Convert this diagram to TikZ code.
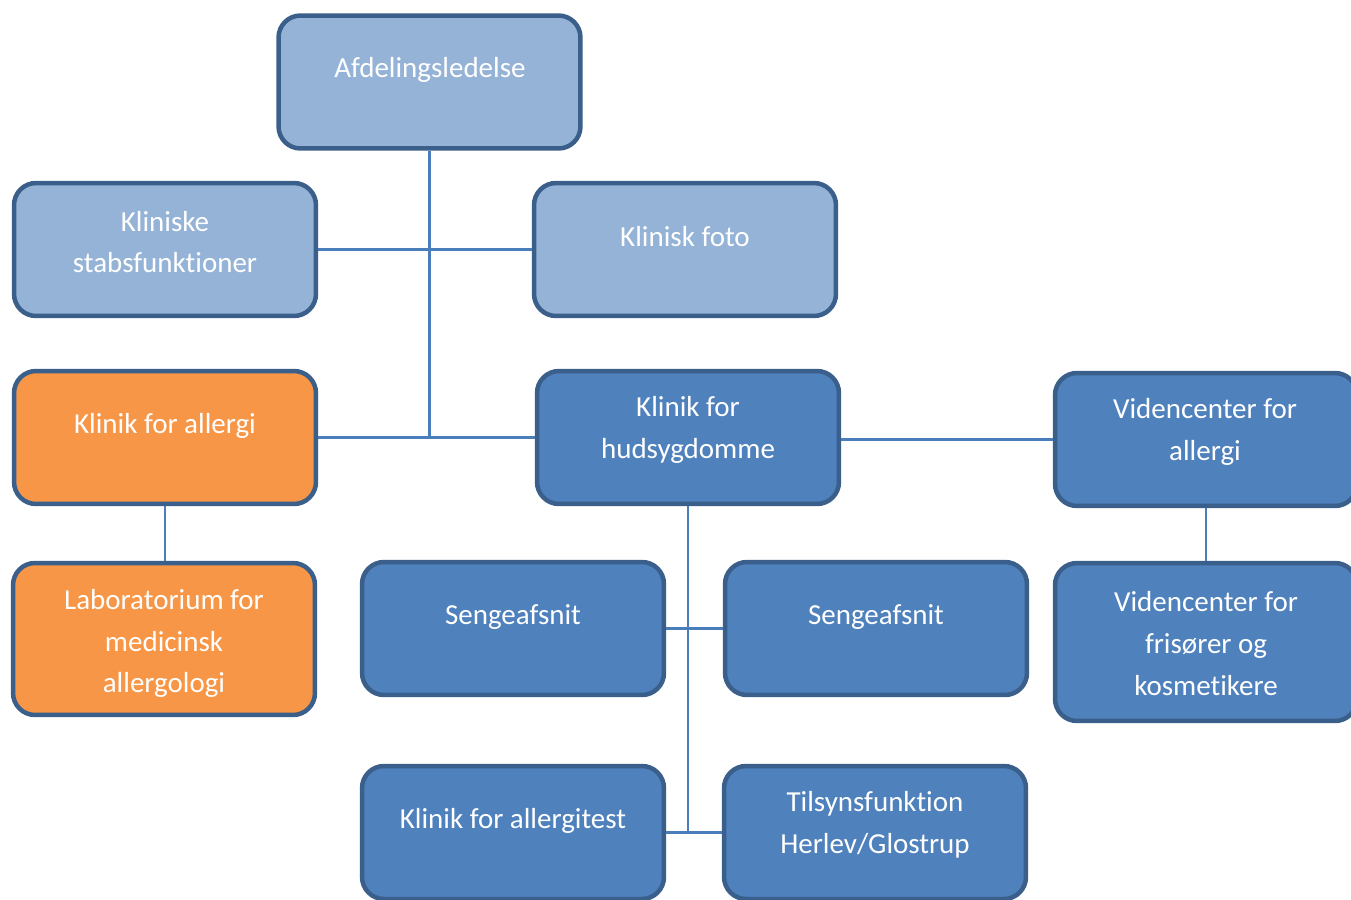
\documentclass[tikz,border=0pt]{standalone}
\usepackage{fontspec}
\setmainfont{Carlito}[Ligatures=NoCommon]
\usepackage{tikz}
\usetikzlibrary{positioning}

\definecolor{lysblaa}{HTML}{95B3D7}
\definecolor{mellemblaa}{HTML}{4F81BD}
\definecolor{allergiorange}{HTML}{F79646}
\definecolor{kant}{HTML}{3A5F8B}
\definecolor{stregfarve}{HTML}{4A7EBB}

\tikzset{
  boks/.style={draw=kant, line width=0.09cm, rounded corners=0.44cm, minimum width=6.04cm, minimum height=2.66cm, inner sep=0pt},
  tekst/.style={text=white, font=\fontsize{16.5}{23.8}\selectfont, align=center, inner sep=0pt},
  streg/.style={draw=stregfarve, line width=0.045cm}
}

\begin{document}
\begin{tikzpicture}[x=0.02cm, y=-0.02cm]

\useasboundingbox (0,0) rectangle (1351,899);
\clip (0,0) rectangle (1351,899);

\node[boks, fill=lysblaa] (afd) at (429.5,82) {};						% Afdelingsledelse
\node[boks, fill=lysblaa] (stab) at (165,249.5) {};					% Kliniske stabsfunktioner
\node[boks, fill=lysblaa] (foto) at (685,249.5) {};					% Klinisk foto
\node[boks, fill=allergiorange] (allergi) at (165,437.5) {};			% Klinik for allergi
\node[boks, fill=mellemblaa] (hud) at (688,437.5) {};					% Klinik for hudsygdomme
\node[boks, fill=mellemblaa] (viden) at (1206,439.5) {};				% Videncenter for allergi
\node[boks, fill=allergiorange, minimum height=3.04cm] (lab) at (164,639) {};	% Laboratorium
\node[boks, fill=mellemblaa] (seng1) at (513,628.5) {};				% Sengeafsnit venstre
\node[boks, fill=mellemblaa] (seng2) at (876,628.5) {};				% Sengeafsnit hoejre
\node[boks, fill=mellemblaa, minimum height=3.16cm] (fris) at (1206,642) {};	% Videncenter frisoerer
\node[boks, fill=mellemblaa] (test) at (513,832.5) {};					% Klinik for allergitest
\node[boks, fill=mellemblaa] (tilsyn) at (875,832.5) {};				% Tilsynsfunktion

\node[tekst] (afdT) at (430,70) {Afdelingsledelse};
\node[tekst] (stabT) at (165,242) {Kliniske\\stabsfunktioner};
\node[tekst] (fotoT) at (685,237) {Klinisk foto};
\node[tekst] (allergiT) at (165,426) {Klinik for allergi};
\node[tekst] (hudT) at (688,430) {Klinik for\\hudsygdomme};
\node[tekst] (videnT) at (1205,432) {Videncenter for\\allergi};
\node[tekst] (labT) at (164,643.5) {Laboratorium for\\medicinsk\\allergologi};
\node[tekst] (seng1T) at (513,617) {Sengeafsnit};
\node[tekst] (seng2T) at (876,617) {Sengeafsnit};
\node[tekst] (frisT) at (1206,643.5) {Videncenter for\\frisører og\\kosmetikere};
\node[tekst] (testT) at (513,821) {Klinik for allergitest};
\node[tekst] (tilsynT) at (875,825) {Tilsynsfunktion\\Herlev/Glostrup};

\draw[streg] (afd.south) -- (afd.south |- allergi.east);				% hovedlinje
\draw[streg] (stab.east) -- (foto.west);								% stabe
\draw[streg] (allergi.east) -- (hud.west);								% klinikker
\draw[streg] (hud.east |- viden.west) -- (viden.west);					% videncenter
\draw[streg] (allergi.south) -- (allergi.south |- lab.north);			% laboratorium
\draw[streg] (viden.south) -- (viden.south |- fris.north);				% frisoerer
\draw[streg] (hud.south) -- (hud.south |- test.east);					% afsnit under hud
\draw[streg] (seng1.east) -- (seng2.west);								% sengeafsnit
\draw[streg] (test.east) -- (tilsyn.west);								% allergitest og tilsyn

\end{tikzpicture}
\end{document}
